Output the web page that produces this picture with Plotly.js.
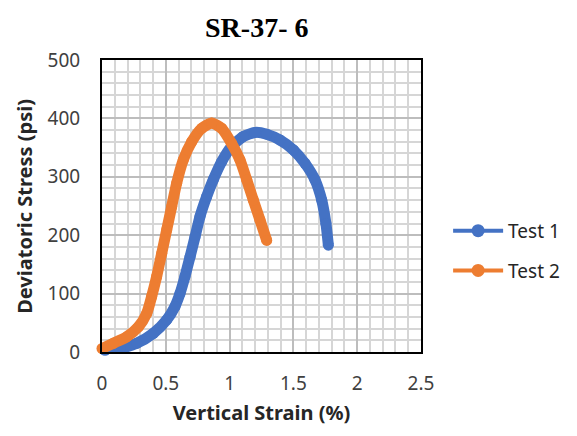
<!DOCTYPE html>
<html>
<head>
<meta charset="utf-8">
<script src="https://cdn.plot.ly/plotly-3.0.1.min.js"></script>
<style>html,body{margin:0;padding:0;background:#fff;}#chart{width:577px;height:436px;}</style>
</head>
<body>
<div id="chart"></div>
<script>
// Data
var test1Strain = [0.024, 0.141, 0.272, 0.402, 0.507, 0.572, 0.611, 0.650, 0.690, 0.729, 0.768, 0.820, 0.872, 0.938, 1.016, 1.107, 1.199, 1.291, 1.395, 1.500, 1.591, 1.669, 1.722, 1.755, 1.774];
var test1Stress = [3, 6, 15, 32, 55, 78, 100, 129, 163, 197, 232, 266, 295, 326, 352, 369, 376, 373, 363, 346, 323, 295, 260, 220, 183];
var test2Strain = [0.0, 0.089, 0.193, 0.285, 0.350, 0.389, 0.428, 0.468, 0.507, 0.546, 0.585, 0.637, 0.703, 0.781, 0.860, 0.938, 1.016, 1.081, 1.134, 1.186, 1.238, 1.291];
var test2Stress = [6, 15, 26, 43, 66, 95, 129, 169, 209, 249, 289, 329, 360, 383, 392, 383, 357, 329, 295, 260, 226, 191];
var seriesNames = ["Test 1", "Test 2"];
var seriesColors = ["#4472C4", "#ED7D31"];
var xTicks = [0, 0.5, 1, 1.5, 2, 2.5];
var xTickText = ["0", "0.5", "1", "1.5", "2", "2.5"];
var yTicks = [0, 100, 200, 300, 400, 500];

var font = "Noto Sans, Open Sans, sans-serif";
function curve(x, y, c) {
  return {x: x, y: y, type: "scatter", mode: "lines+markers", showlegend: false, cliponaxis: false,
    line: {color: c, width: 11, shape: "spline", smoothing: 0.6},
    marker: {color: c, size: 11}, hoverinfo: "skip"};
}
function legendItem(name, c) {
  return {x: [null], y: [null], type: "scatter", mode: "lines+markers", name: name, legendgroup: name,
    line: {color: c, width: 4}, marker: {color: c, size: 13}};
}
var data = [
  curve(test1Strain, test1Stress, seriesColors[0]),
  curve(test2Strain, test2Stress, seriesColors[1]),
  legendItem(seriesNames[0], seriesColors[0]),
  legendItem(seriesNames[1], seriesColors[1])
];
var layout = {
  width: 577, height: 436,
  margin: {l: 102, r: 156, t: 60, b: 84, autoexpand: false},
  paper_bgcolor: "#fff", plot_bgcolor: "#fff",
  title: {text: "<b>SR-37- 6</b>", font: {family: "Liberation Serif, Times New Roman, serif", size: 28, color: "#000"},
    x: 0.445, xanchor: "center", y: 0.938, yanchor: "middle", yref: "container"},
  xaxis: {range: [0, 2.5], tickvals: xTicks, ticktext: xTickText,
    showline: true, mirror: true, linecolor: "#000", linewidth: 2, ticks: "", ticklabelstandoff: 13,
    showgrid: true, gridcolor: "#bdbdbd", gridwidth: 2, zeroline: false,
    minor: {dtick: 0.1, showgrid: true, gridcolor: "#d6d6d6", gridwidth: 2},
    tickfont: {family: font, size: 19, color: "#404040"},
    title: {text: "<b>Vertical Strain (%)</b>", font: {family: font, size: 20, color: "#262626"}, standoff: 11}},
  yaxis: {range: [0, 500], tickvals: yTicks,
    showline: true, mirror: true, linecolor: "#000", linewidth: 2, ticks: "", ticklabelstandoff: 16,
    showgrid: true, gridcolor: "#bdbdbd", gridwidth: 2, zeroline: false,
    minor: {dtick: 20, showgrid: true, gridcolor: "#d6d6d6", gridwidth: 2},
    tickfont: {family: font, size: 19, color: "#404040"}},
  annotations: [{text: "<b>Deviatoric Stress (psi)</b>", textangle: -90, xref: "paper", yref: "paper",
    x: -0.245, y: 0.5, xanchor: "center", yanchor: "middle", showarrow: false,
    font: {family: font, size: 20, color: "#262626"}}],
  legend: {x: 1.085, y: 0.48, xanchor: "left", yanchor: "top", font: {family: font, size: 19, color: "#262626"},
    traceorder: "grouped", tracegroupgap: 12, itemwidth: 50, bgcolor: "rgba(0,0,0,0)"},
  showlegend: true
};
Plotly.newPlot("chart", data, layout, {displayModeBar: false, staticPlot: true});
</script>
</body>
</html>
